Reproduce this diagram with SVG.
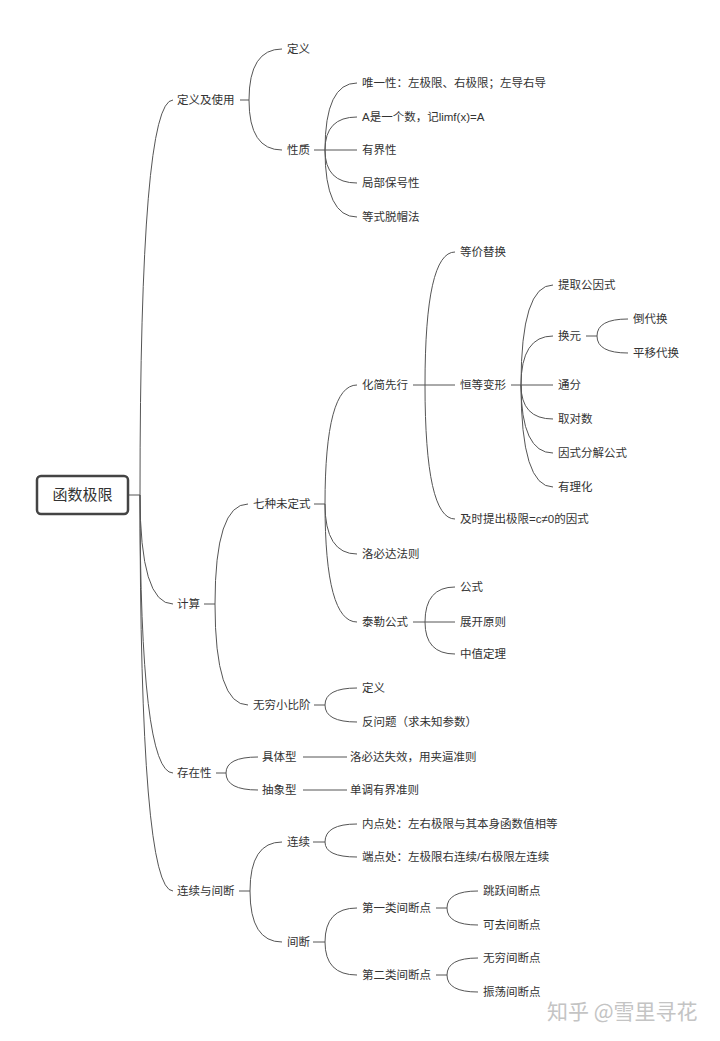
<svg xmlns="http://www.w3.org/2000/svg" width="720" height="1041" viewBox="0 0 720 1041">
<style>
.t{font-family:"Liberation Sans","Noto Sans CJK SC",sans-serif;font-size:11.5px;fill:#333;}
.c{fill:none;stroke:#555;stroke-width:1;}
.root{fill:#fff;stroke:#444;stroke-width:2.5;}
.rt{font-family:"Liberation Sans","Noto Sans CJK SC",sans-serif;font-size:15px;fill:#333;}
.wm{font-family:"Noto Sans CJK SC",sans-serif;font-size:21px;fill:#c4c4c4;}
</style>
<rect width="720" height="1041" fill="#fff"/>
<g id="connectors">
<path class="c" d="M128 495 H140"/>
<path class="c" d="M140 495 Q140 100 173 100"/>
<path class="c" d="M140 495 Q140 604 173 604"/>
<path class="c" d="M140 495 Q140 773 173 773"/>
<path class="c" d="M140 495 Q140 891 173 891"/>
<path class="c" d="M240 100 H249"/>
<path class="c" d="M249 100 Q249 49 282 49"/>
<path class="c" d="M249 100 Q249 150 282 150"/>
<path class="c" d="M314 150 H325"/>
<path class="c" d="M325 150 Q325 83 357 83"/>
<path class="c" d="M325 150 Q325 117 357 117"/>
<path class="c" d="M325 150 H357"/>
<path class="c" d="M325 150 Q325 183 357 183"/>
<path class="c" d="M325 150 Q325 217 357 217"/>
<path class="c" d="M204 604 H215"/>
<path class="c" d="M215 604 Q215 504 248 504"/>
<path class="c" d="M215 604 Q215 705 248 705"/>
<path class="c" d="M314 504 H325"/>
<path class="c" d="M325 504 Q325 385 357 385"/>
<path class="c" d="M325 504 Q325 554 357 554"/>
<path class="c" d="M325 504 Q325 622 357 622"/>
<path class="c" d="M413 385 H425"/>
<path class="c" d="M425 385 Q425 252 455 252"/>
<path class="c" d="M425 385 H455"/>
<path class="c" d="M425 385 Q425 519 455 519"/>
<path class="c" d="M511 385 H521"/>
<path class="c" d="M521 385 Q521 285 553 285"/>
<path class="c" d="M521 385 Q521 336 553 336"/>
<path class="c" d="M521 385 H553"/>
<path class="c" d="M521 385 Q521 419 553 419"/>
<path class="c" d="M521 385 Q521 453 553 453"/>
<path class="c" d="M521 385 Q521 487 553 487"/>
<path class="c" d="M586 336 H597"/>
<path class="c" d="M597 336 Q597 319 628 319"/>
<path class="c" d="M597 336 Q597 353 628 353"/>
<path class="c" d="M413 622 H425"/>
<path class="c" d="M425 622 Q425 587 455 587"/>
<path class="c" d="M425 622 H455"/>
<path class="c" d="M425 622 Q425 654 455 654"/>
<path class="c" d="M314 705 H325"/>
<path class="c" d="M325 705 Q325 688 357 688"/>
<path class="c" d="M325 705 Q325 722 357 722"/>
<path class="c" d="M216 773 H226"/>
<path class="c" d="M226 773 Q226 757 258 757"/>
<path class="c" d="M226 773 Q226 790 258 790"/>
<path class="c" d="M303 757 H347"/>
<path class="c" d="M303 790 H347"/>
<path class="c" d="M239 891 H250"/>
<path class="c" d="M250 891 Q250 842 282 842"/>
<path class="c" d="M250 891 Q250 942 282 942"/>
<path class="c" d="M313 842 H325"/>
<path class="c" d="M325 842 Q325 824 357 824"/>
<path class="c" d="M325 842 Q325 857 357 857"/>
<path class="c" d="M313 942 H325"/>
<path class="c" d="M325 942 Q325 908 357 908"/>
<path class="c" d="M325 942 Q325 975 357 975"/>
<path class="c" d="M436 908 H447"/>
<path class="c" d="M447 908 Q447 891 478 891"/>
<path class="c" d="M447 908 Q447 925 478 925"/>
<path class="c" d="M436 975 H447"/>
<path class="c" d="M447 975 Q447 958 478 958"/>
<path class="c" d="M447 975 Q447 992 478 992"/>
</g>
<g id="root"><rect class="root" x="37" y="476" width="91" height="38" rx="4"/><text class="rt" x="82.5" y="500" text-anchor="middle">函数极限</text></g>
<g id="n_dyjsy"><text class="t" x="177" y="104">定义及使用</text></g>
<g id="n_dy1"><text class="t" x="287" y="53">定义</text></g>
<g id="n_xz"><text class="t" x="287" y="154">性质</text></g>
<g id="n_wyx"><text class="t" x="362" y="87">唯一性：左极限、右极限；左导右导</text></g>
<g id="n_ashi"><text class="t" x="362" y="121">A是一个数，记limf(x)=A</text></g>
<g id="n_yjx"><text class="t" x="362" y="154">有界性</text></g>
<g id="n_jbbhx"><text class="t" x="362" y="187">局部保号性</text></g>
<g id="n_dstmf"><text class="t" x="362" y="221">等式脱帽法</text></g>
<g id="n_js"><text class="t" x="177" y="608">计算</text></g>
<g id="n_qzwds"><text class="t" x="253" y="508">七种未定式</text></g>
<g id="n_hjxx"><text class="t" x="362" y="389">化简先行</text></g>
<g id="n_djth"><text class="t" x="460" y="256">等价替换</text></g>
<g id="n_hdbx"><text class="t" x="460" y="389">恒等变形</text></g>
<g id="n_tqggs"><text class="t" x="558" y="289">提取公因式</text></g>
<g id="n_hy"><text class="t" x="558" y="340">换元</text></g>
<g id="n_ddh"><text class="t" x="633" y="323">倒代换</text></g>
<g id="n_pydh"><text class="t" x="633" y="357">平移代换</text></g>
<g id="n_tf"><text class="t" x="558" y="389">通分</text></g>
<g id="n_qds"><text class="t" x="558" y="423">取对数</text></g>
<g id="n_ysfj"><text class="t" x="558" y="457">因式分解公式</text></g>
<g id="n_ylh"><text class="t" x="558" y="491">有理化</text></g>
<g id="n_jstc"><text class="t" x="460" y="523">及时提出极限=c≠0的因式</text></g>
<g id="n_lbd"><text class="t" x="362" y="558">洛必达法则</text></g>
<g id="n_tlgs"><text class="t" x="362" y="626">泰勒公式</text></g>
<g id="n_gs"><text class="t" x="460" y="591">公式</text></g>
<g id="n_zkyz"><text class="t" x="460" y="626">展开原则</text></g>
<g id="n_zzdl"><text class="t" x="460" y="658">中值定理</text></g>
<g id="n_wqxbj"><text class="t" x="253" y="709">无穷小比阶</text></g>
<g id="n_dy2"><text class="t" x="362" y="692">定义</text></g>
<g id="n_fwt"><text class="t" x="362" y="726">反问题（求未知参数）</text></g>
<g id="n_czx"><text class="t" x="177" y="777">存在性</text></g>
<g id="n_jtx"><text class="t" x="262" y="761">具体型</text></g>
<g id="n_lbdsx"><text class="t" x="350" y="761">洛必达失效，用夹逼准则</text></g>
<g id="n_cxx"><text class="t" x="262" y="794">抽象型</text></g>
<g id="n_ddyj"><text class="t" x="350" y="794">单调有界准则</text></g>
<g id="n_lxyjd"><text class="t" x="177" y="895">连续与间断</text></g>
<g id="n_lx"><text class="t" x="287" y="846">连续</text></g>
<g id="n_ndc"><text class="t" x="362" y="828">内点处：左右极限与其本身函数值相等</text></g>
<g id="n_dd"><text class="t" x="362" y="861">端点处：左极限右连续/右极限左连续</text></g>
<g id="n_jd"><text class="t" x="287" y="946">间断</text></g>
<g id="n_dyl"><text class="t" x="362" y="912">第一类间断点</text></g>
<g id="n_tyjdd"><text class="t" x="483" y="895">跳跃间断点</text></g>
<g id="n_kqjdd"><text class="t" x="483" y="929">可去间断点</text></g>
<g id="n_del"><text class="t" x="362" y="979">第二类间断点</text></g>
<g id="n_wqjdd"><text class="t" x="483" y="962">无穷间断点</text></g>
<g id="n_zdjdd"><text class="t" x="483" y="996">振荡间断点</text></g>
<g id="watermark"><text class="wm" x="547" y="1019">知乎 @雪里寻花</text></g>
</svg>
